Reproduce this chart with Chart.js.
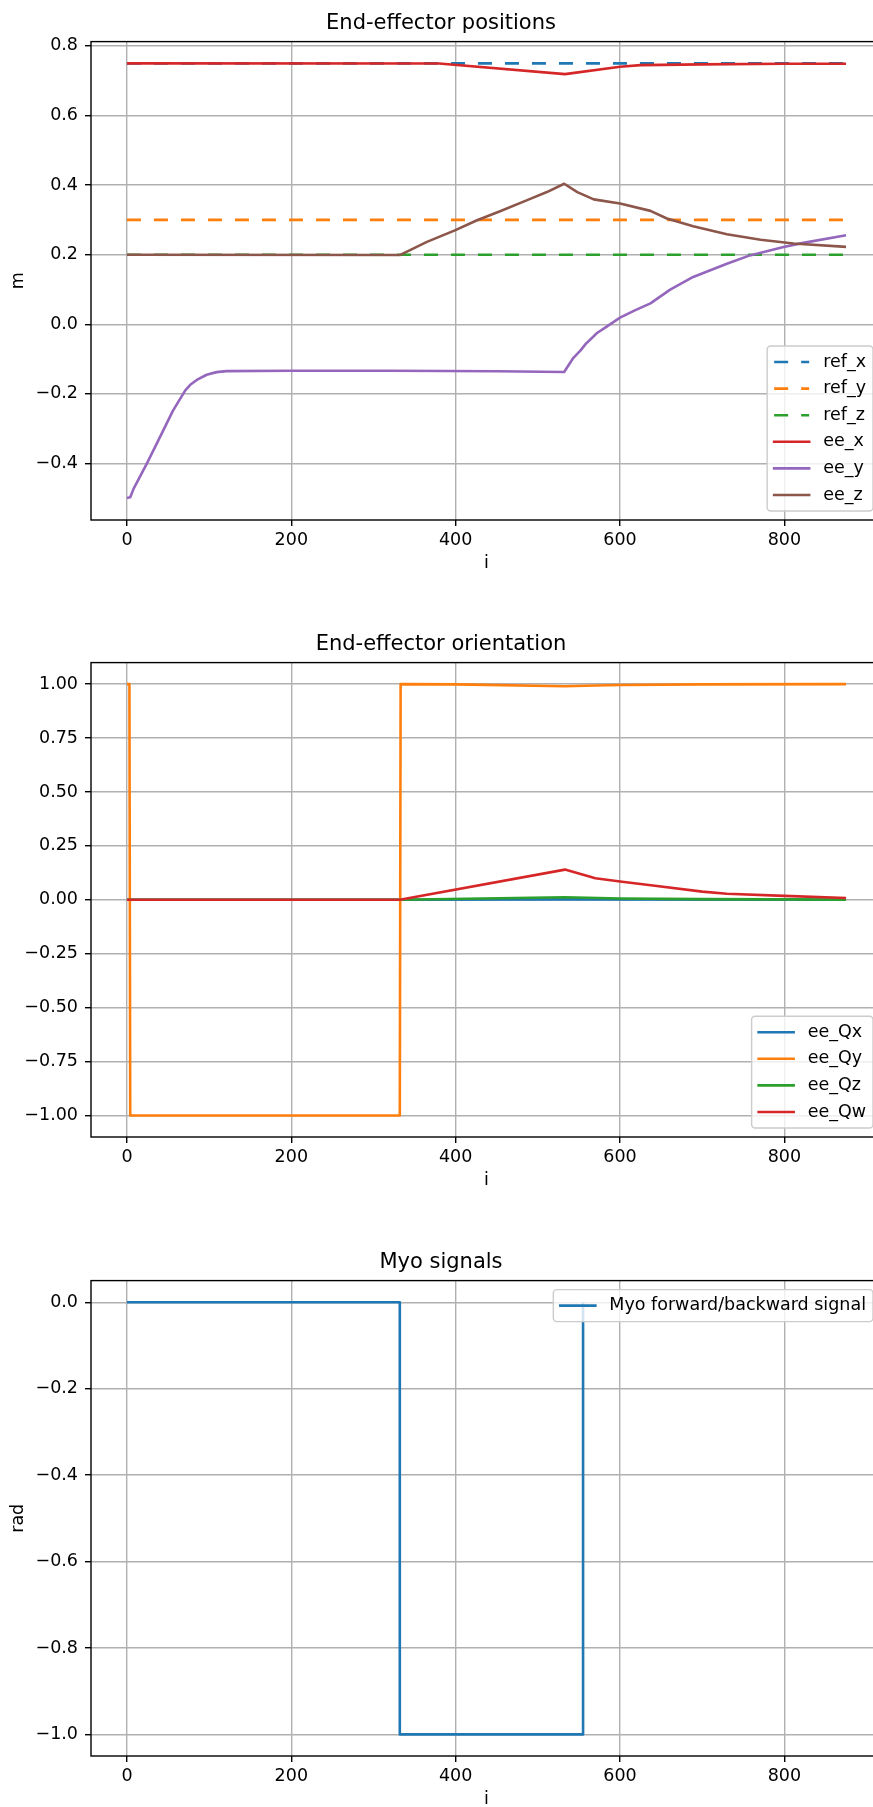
<!DOCTYPE html>
<html>
<head>
<meta charset="utf-8">
<title>End-effector positions / orientation / Myo signals</title>
<script src="https://cdn.jsdelivr.net/npm/chart.js@4.4.1/dist/chart.umd.min.js"></script>
<style>
  html, body { margin:0; padding:0; background:#fff; }
  body { width:873px; height:1807px; overflow:hidden; position:relative; }
  .panel { position:absolute; left:0; width:900px; }
  .panel canvas { display:block; }
</style>
</head>
<body>
<div class="panel" style="top:0px"><canvas id="posChart" width="900" height="580"></canvas></div>
<div class="panel" style="top:621px"><canvas id="oriChart" width="900" height="576"></canvas></div>
<div class="panel" style="top:1239px"><canvas id="myoChart" width="900" height="577"></canvas></div>
<script>
// sample index axis
const iTicks = [0, 200, 400, 600, 800];

// End-effector positions (m)
const posTicks = [-0.4, -0.2, 0.0, 0.2, 0.4, 0.6, 0.8];
const refI = [0, 875];
const refX = [0.75, 0.75];
const refY = [0.30, 0.30];
const refZ = [0.20, 0.20];
const eeXi = [0, 380, 533, 600, 625, 700, 800, 875];
const eeX  = [0.750, 0.7495, 0.719, 0.740, 0.745, 0.747, 0.749, 0.749];
const eeYi = [0, 4, 8, 24, 40, 56, 71, 77, 85, 97, 109, 121, 200, 320, 450, 532,
              543, 552, 558, 572, 581, 600, 618, 637, 661, 689, 730, 758, 799, 823, 875];
const eeY  = [-0.499, -0.497, -0.473, -0.401, -0.325, -0.248, -0.190, -0.174, -0.160, -0.145, -0.1375, -0.1346, -0.1336, -0.1336, -0.135, -0.137,
              -0.097, -0.075, -0.057, -0.025, -0.011, 0.019, 0.040, 0.060, 0.0996, 0.136, 0.174, 0.198, 0.222, 0.234, 0.256];
const eeZi = [0, 332, 365, 399, 426, 454, 487, 511, 532, 548, 568, 600, 637, 657, 689, 730, 771, 811, 875];
const eeZ  = [0.200, 0.199, 0.237, 0.270, 0.299, 0.325, 0.357, 0.380, 0.404, 0.380, 0.359, 0.347, 0.326, 0.304, 0.282, 0.259, 0.243, 0.232, 0.2225];

// End-effector orientation (quaternion)
const oriTicks = [-1.0, -0.75, -0.5, -0.25, 0.0, 0.25, 0.5, 0.75, 1.0];
const qxI = [0, 332, 533, 875];
const qx  = [0, 0, 0.002, 0];
const qyI = [0, 3, 4, 332, 333, 400, 533, 570, 600, 700, 875];
const qy  = [1, 1, -1, -1, 1, 0.999, 0.990, 0.994, 0.996, 0.999, 1.0];
const qzI = [0, 332, 533, 600, 700, 875];
const qz  = [0, 0, 0.012, 0.006, 0.003, 0.001];
const qwI = [0, 332, 533, 570, 600, 640, 700, 730, 800, 875];
const qw  = [0, 0, 0.140, 0.100, 0.085, 0.066, 0.038, 0.028, 0.018, 0.008];

// Myo signals (rad)
const myoTicks = [-1.0, -0.8, -0.6, -0.4, -0.2, 0.0];
const myoI = [0, 332, 332, 555, 555];
const myo  = [0, 0, -1, -1, 0];

Chart.defaults.font.family = "'DejaVu Sans', sans-serif";
Chart.defaults.font.size = 17.5;
Chart.defaults.color = '#000';

const pts = (xs, ys) => xs.map((x, k) => ({x: x, y: ys[k]}));

function line(label, color, xs, ys, dashed){
  return {
    label: label, data: pts(xs, ys),
    borderColor: color, backgroundColor: color,
    borderWidth: 2.6, borderDash: dashed ? [14, 13] : [],
    borderJoinStyle: 'round', pointRadius: 0, tension: 0, fill: false
  };
}

// top/right spines as well as left/bottom
const frame = {
  id: 'frame',
  afterDatasetsDraw(chart){
    const {ctx, chartArea: a} = chart;
    ctx.save();
    ctx.strokeStyle = '#000';
    ctx.lineWidth = 1.4;
    ctx.strokeRect(a.left, a.top, a.right - a.left, a.bottom - a.top);
    ctx.restore();
  }
};

// matplotlib-like legend box inside the axes
const boxLegend = {
  id: 'boxLegend',
  afterDraw(chart, args, opts){
    const {ctx, chartArea: a} = chart;
    const sets = chart.data.datasets;
    const pad = 7, handle = 35, gap = 14, rowH = 18, row = 26.6;
    ctx.save();
    ctx.font = "17.5px 'DejaVu Sans'";
    const tw = Math.max(...sets.map(d => ctx.measureText(d.label).width));
    const w = pad + handle + gap + tw + pad;
    const h = pad * 2 + rowH * sets.length + (row - rowH) * (sets.length - 1);
    const x = a.right - 9 - w;
    const y = opts.corner === 'upper' ? a.top + 9 : a.bottom - 9 - h;
    ctx.beginPath();
    ctx.roundRect(x, y, w, h, 3.5);
    ctx.fillStyle = 'rgba(255,255,255,0.8)';
    ctx.fill();
    ctx.strokeStyle = '#cccccc';
    ctx.lineWidth = 1.4;
    ctx.stroke();
    sets.forEach((d, k) => {
      const cy = y + pad + rowH / 2 + k * row;
      const dashed = d.borderDash && d.borderDash.length;
      ctx.beginPath();
      ctx.setLineDash(dashed ? d.borderDash : []);
      ctx.lineCap = dashed ? 'butt' : 'square';
      ctx.strokeStyle = d.borderColor;
      ctx.lineWidth = d.borderWidth;
      ctx.moveTo(x + pad, cy);
      ctx.lineTo(x + pad + handle, cy);
      ctx.stroke();
      ctx.setLineDash([]);
      ctx.fillStyle = '#000';
      ctx.textBaseline = 'middle';
      ctx.textAlign = 'left';
      ctx.fillText(d.label, x + pad + handle + gap, cy);
    });
    ctx.restore();
  }
};

function makeChart(id, datasets, o){
  const fmt = v => (v < -1e-9 ? '\u2212' : '') + Math.abs(v).toFixed(o.dec);
  const grid = { color: '#b0b0b0', lineWidth: 1.4, tickColor: '#000', tickLength: 6, tickWidth: 1.4 };
  datasets.forEach((d, k) => { d.order = datasets.length - k; });
  return new Chart(document.getElementById(id), {
    type: 'line',
    data: { datasets: datasets },
    options: {
      responsive: false, animation: false, devicePixelRatio: 1, events: [],
      layout: { padding: { left: 0, right: 18, top: 0, bottom: 0 } },
      plugins: {
        legend: { display: false },
        tooltip: { enabled: false },
        title: { display: true, text: o.title, color: '#000',
          font: { size: 21, weight: 'normal', lineHeight: 1.2 },
          padding: { top: 11.2, bottom: 5.2 } },
        boxLegend: { corner: o.corner }
      },
      scales: {
        x: {
          type: 'linear', min: -43.75, max: 918.75,
          afterBuildTicks: s => { s.ticks = iTicks.map(v => ({value: v})); },
          afterFit: s => { s.height = 60; },
          ticks: { color: '#000', padding: 3.5, autoSkip: false, maxRotation: 0, callback: v => String(v) },
          grid: grid,
          border: { display: false },
          title: { display: true, text: 'i', color: '#000', padding: { top: 0, bottom: 5.8 } }
        },
        y: {
          type: 'linear', min: o.min, max: o.max,
          afterBuildTicks: s => { s.ticks = o.ticks.map(v => ({value: v})); },
          afterFit: s => { s.width = 91; },
          ticks: { color: '#000', padding: 7, autoSkip: false, callback: fmt },
          grid: grid,
          border: { display: false },
          title: { display: !!o.ylabel, text: o.ylabel || '', color: '#000', padding: { top: 7.8, bottom: 0 } }
        }
      }
    },
    plugins: [frame, boxLegend]
  });
}

makeChart('posChart', [
  line('ref_x', '#1f77b4', refI, refX, true),
  line('ref_y', '#ff7f0e', refI, refY, true),
  line('ref_z', '#2ca02c', refI, refZ, true),
  line('ee_x', '#d62728', eeXi, eeX),
  line('ee_y', '#9467bd', eeYi, eeY),
  line('ee_z', '#8c564b', eeZi, eeZ)
], { title: 'End-effector positions', ylabel: 'm', min: -0.5625, max: 0.8125, ticks: posTicks, dec: 1, corner: 'lower' });

makeChart('oriChart', [
  line('ee_Qx', '#1f77b4', qxI, qx),
  line('ee_Qy', '#ff7f0e', qyI, qy),
  line('ee_Qz', '#2ca02c', qzI, qz),
  line('ee_Qw', '#d62728', qwI, qw)
], { title: 'End-effector orientation', ylabel: '', min: -1.1, max: 1.1, ticks: oriTicks, dec: 2, corner: 'lower' });

makeChart('myoChart', [
  line('Myo forward/backward signal', '#1f77b4', myoI, myo)
], { title: 'Myo signals', ylabel: 'rad', min: -1.05, max: 0.05, ticks: myoTicks, dec: 1, corner: 'upper' });
</script>
</body>
</html>
